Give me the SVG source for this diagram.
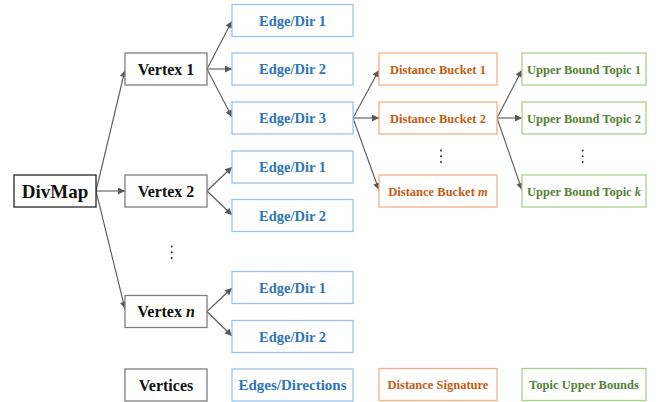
<svg xmlns="http://www.w3.org/2000/svg" width="667" height="402" viewBox="0 0 667 402">
  <style>
    text { font-family: "Liberation Serif", "Times New Roman", serif; font-weight: bold; text-anchor: middle; }
    .box { fill: #ffffff; stroke-width: 1.3; }
    .root { stroke: #262626; }
    .vtx { stroke: #7f7f7f; }
    .edge { stroke: #9dc3e6; }
    .dist { stroke: #f4b183; }
    .topic { stroke: #a9d18e; }
    .tv { fill: #111111; font-size: 16px; }
    .te { fill: #2e75b6; font-size: 14.5px; }
    .td { fill: #c55a11; font-size: 12.5px; }
    .tt { fill: #548235; font-size: 12.5px; }
    .conn line { stroke: #595959; stroke-width: 1.1; marker-end: url(#arrow); }
    .dots circle { fill: #333333; }
  </style>
  <defs>
    <marker id="arrow" viewBox="0 0 10 10" refX="10" refY="5" markerWidth="9" markerHeight="7" markerUnits="userSpaceOnUse" orient="auto">
      <path d="M0,0 L10,5 L0,10 z" fill="#595959"/>
    </marker>
  </defs>

  <!-- connectors -->
  <g id="connectors" class="conn">
    <line x1="96" y1="191" x2="125" y2="70"/>
    <line x1="96" y1="191" x2="125" y2="191"/>
    <line x1="96" y1="191" x2="125" y2="309"/>

    <line x1="207" y1="69" x2="232" y2="21"/>
    <line x1="207" y1="69" x2="232" y2="69"/>
    <line x1="207" y1="69" x2="232" y2="117"/>

    <line x1="207" y1="191" x2="232" y2="167"/>
    <line x1="207" y1="191" x2="232" y2="215"/>

    <line x1="207" y1="311.5" x2="232" y2="288"/>
    <line x1="207" y1="311.5" x2="232" y2="336"/>

    <line x1="353" y1="118" x2="379" y2="70"/>
    <line x1="353" y1="118" x2="379" y2="118"/>
    <line x1="353" y1="118" x2="379" y2="190"/>

    <line x1="497" y1="118" x2="522" y2="70"/>
    <line x1="497" y1="118" x2="522" y2="118"/>
    <line x1="497" y1="118" x2="522" y2="190"/>
  </g>

  <!-- root -->
  <g id="divmap">
    <rect class="box root" x="14" y="175" width="82" height="32"/>
    <text class="tv" x="55" y="198" style="font-size:19px">DivMap</text>
  </g>

  <!-- vertices -->
  <g id="vertex-1">
    <rect class="box vtx" x="125" y="53" width="82" height="32"/>
    <text class="tv" x="166" y="74.5">Vertex 1</text>
  </g>
  <g id="vertex-2">
    <rect class="box vtx" x="125" y="175" width="82" height="32"/>
    <text class="tv" x="166" y="196.5">Vertex 2</text>
  </g>
  <g id="vertex-n">
    <rect class="box vtx" x="125" y="295.5" width="82" height="32"/>
    <text class="tv" x="166" y="317">Vertex <tspan font-style="italic">n</tspan></text>
  </g>

  <!-- edges / directions -->
  <g id="v1-edge-1">
    <rect class="box edge" x="232" y="4.5" width="121" height="32"/>
    <text class="te" x="292.5" y="25.5">Edge/Dir 1</text>
  </g>
  <g id="v1-edge-2">
    <rect class="box edge" x="232" y="53" width="121" height="32"/>
    <text class="te" x="292.5" y="74">Edge/Dir 2</text>
  </g>
  <g id="v1-edge-3">
    <rect class="box edge" x="232" y="102" width="121" height="32"/>
    <text class="te" x="292.5" y="123">Edge/Dir 3</text>
  </g>
  <g id="v2-edge-1">
    <rect class="box edge" x="232" y="151" width="121" height="32"/>
    <text class="te" x="292.5" y="172">Edge/Dir 1</text>
  </g>
  <g id="v2-edge-2">
    <rect class="box edge" x="232" y="199.5" width="121" height="32"/>
    <text class="te" x="292.5" y="220.5">Edge/Dir 2</text>
  </g>
  <g id="vn-edge-1">
    <rect class="box edge" x="232" y="271.5" width="121" height="32"/>
    <text class="te" x="292.5" y="292.5">Edge/Dir 1</text>
  </g>
  <g id="vn-edge-2">
    <rect class="box edge" x="232" y="320.5" width="121" height="32"/>
    <text class="te" x="292.5" y="341.5">Edge/Dir 2</text>
  </g>

  <!-- distance buckets -->
  <g id="bucket-1">
    <rect class="box dist" x="379" y="53" width="118" height="32"/>
    <text class="td" x="438" y="73.5">Distance Bucket 1</text>
  </g>
  <g id="bucket-2">
    <rect class="box dist" x="379" y="102" width="118" height="32"/>
    <text class="td" x="438" y="122.5">Distance Bucket 2</text>
  </g>
  <g id="bucket-m">
    <rect class="box dist" x="379" y="175" width="118" height="32"/>
    <text class="td" x="438" y="195.5">Distance Bucket <tspan font-style="italic">m</tspan></text>
  </g>

  <!-- topic upper bounds -->
  <g id="topic-1">
    <rect class="box topic" x="522" y="53" width="124" height="32"/>
    <text class="tt" x="584" y="73.5">Upper Bound Topic 1</text>
  </g>
  <g id="topic-2">
    <rect class="box topic" x="522" y="102" width="124" height="32"/>
    <text class="tt" x="584" y="122.5">Upper Bound Topic 2</text>
  </g>
  <g id="topic-k">
    <rect class="box topic" x="522" y="175" width="124" height="32"/>
    <text class="tt" x="584" y="195.5">Upper Bound Topic <tspan font-style="italic">k</tspan></text>
  </g>

  <!-- vertical ellipses -->
  <g class="dots">
    <circle cx="171.7" cy="246.5" r="1"/>
    <circle cx="171.7" cy="252.3" r="1"/>
    <circle cx="171.7" cy="258.1" r="1"/>
    <circle cx="441" cy="150.5" r="1"/>
    <circle cx="441" cy="156.3" r="1"/>
    <circle cx="441" cy="162.1" r="1"/>
    <circle cx="582.7" cy="150.5" r="1"/>
    <circle cx="582.7" cy="156.3" r="1"/>
    <circle cx="582.7" cy="162.1" r="1"/>
  </g>

  <!-- legend row -->
  <g id="legend-vertices">
    <rect class="box vtx" x="125" y="369" width="82" height="32"/>
    <text class="tv" x="166" y="390.5">Vertices</text>
  </g>
  <g id="legend-edges">
    <rect class="box edge" x="232" y="369" width="121" height="32"/>
    <text class="te" x="292.5" y="390" style="font-size:15px">Edges/Directions</text>
  </g>
  <g id="legend-distance">
    <rect class="box dist" x="379" y="368.5" width="118" height="32"/>
    <text class="td" x="438" y="389">Distance Signature</text>
  </g>
  <g id="legend-topic">
    <rect class="box topic" x="522" y="368.5" width="124" height="32"/>
    <text class="tt" x="584" y="389">Topic Upper Bounds</text>
  </g>
</svg>
